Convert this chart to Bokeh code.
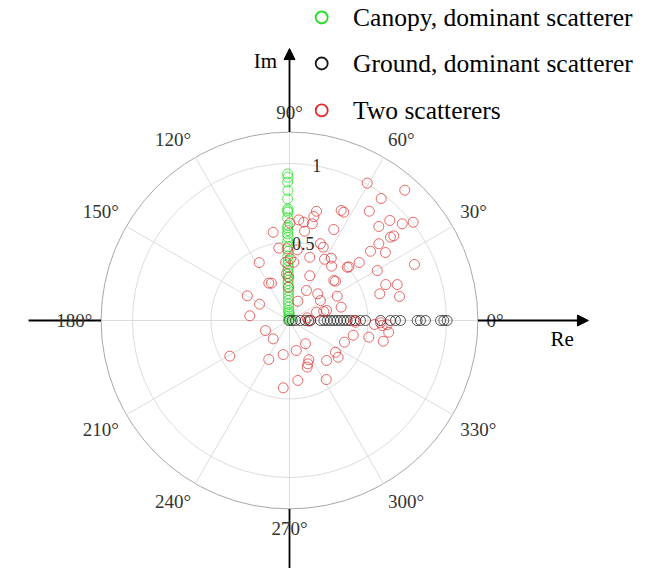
import numpy as np
from bokeh.plotting import figure
from bokeh.models import Arrow, NormalHead
from bokeh.core.properties import value
from bokeh.embed import file_html
from bokeh.resources import INLINE

# ---------------- data (complex coherence values, Re / Im) ----------------
canopy_re = [-0.012, -0.010, -0.012, -0.010, -0.012, -0.010, -0.012, -0.010,
             -0.012, -0.010, -0.012, -0.010, -0.012, -0.010, -0.012, -0.010,
             -0.008, -0.010, -0.008, -0.010, -0.008, -0.010, -0.008, -0.010,
             -0.008, -0.010, -0.008, -0.006, -0.008, -0.006, -0.008, -0.006,
             -0.004, -0.006, -0.004, -0.002, -0.004, -0.002, 0.000]
canopy_im = [0.934, 0.913, 0.881, 0.828, 0.775, 0.711, 0.700, 0.690,
             0.654, 0.605, 0.590, 0.573, 0.552, 0.531, 0.503, 0.470,
             0.440, 0.410, 0.382, 0.360, 0.340, 0.320, 0.300, 0.280,
             0.255, 0.235, 0.212, 0.190, 0.170, 0.150, 0.127, 0.105,
             0.085, 0.065, 0.053, 0.040, 0.028, 0.015, 0.005]

ground_re = [-0.004, 0.017, 0.038, 0.070, 0.100, 0.123, 0.134, 0.197, 0.219,
             0.240, 0.261, 0.282, 0.304, 0.325, 0.346, 0.367, 0.389, 0.420,
             0.452, 0.484, 0.580, 0.643, 0.675, 0.707, 0.813, 0.834, 0.866,
             0.962, 0.983, 1.004]
ground_im = [0.0] * len(ground_re)

two_re = [0.495, 0.734, 0.584, 0.329, 0.346, 0.508, 0.172, 0.155, 0.059, 0.091,
          0.145, 0.002, 0.639, 0.718, 0.788, 0.569, 0.282, 0.096, -0.104, 0.643,
          0.664, -0.068, 0.049, 0.197, 0.215, 0.569, 0.516, 0.611, 0.129, 0.223,
          0.266, 0.268, 0.368, 0.378, 0.444, 0.559, 0.796, -0.193, 0.006, 0.027,
          0.129, 0.282, 0.293, -0.132, -0.115, 0.108, 0.180, 0.304, 0.613, 0.686,
          0.575, 0.701, -0.269, -0.191, 0.053, 0.197, 0.329, 0.172, 0.218, 0.236,
          -0.253, -0.006, -0.006, -0.015, -0.025, -0.019, 0.113, 0.123, 0.420, 0.410,
          0.541, 0.580, 0.590, 0.622, 0.632, 0.597, 0.505, 0.406, 0.350, 0.293,
          0.310, 0.236, 0.102, 0.043, 0.123, 0.117, 0.113, -0.040, -0.132, -0.153,
          -0.104, -0.380, 0.053, -0.040, 0.234]
two_im = [0.875, 0.830, 0.777, 0.701, 0.690, 0.696, 0.696, 0.662, 0.641, 0.626,
          0.616, 0.620, 0.637, 0.616, 0.626, 0.599, 0.580, 0.569, 0.562, 0.531,
          0.539, 0.461, 0.450, 0.489, 0.467, 0.489, 0.441, 0.433, 0.403, 0.390,
          0.397, 0.346, 0.339, 0.342, 0.369, 0.318, 0.357, 0.369, 0.393, 0.371,
          0.285, 0.255, 0.250, 0.238, 0.238, 0.191, 0.170, 0.155, 0.229, 0.229,
          0.170, 0.153, 0.157, 0.104, 0.123, 0.127, 0.085, 0.053, 0.057, 0.064,
          0.030, 0.276, 0.212, 0.457, 0.371, 0.297, 0.017, -0.004, -0.011, 0.000,
          -0.025, -0.015, -0.032, -0.027, -0.075, -0.132, -0.106, -0.094, -0.138, -0.202,
          -0.234, -0.255, -0.148, -0.191, -0.250, -0.276, -0.297, -0.217, -0.248, -0.064,
          -0.117, -0.227, -0.382, -0.429, -0.376]

series_labels = ["Canopy, dominant scatterer", "Ground, dominant scatterer", "Two scatterers"]
angle_ticks = [0, 30, 60, 90, 120, 150, 180, 210, 240, 270, 300, 330]
radial_ticks = [0.5, 1.0]
radial_labels = ["0.5", "1"]
r_max = 1.2

# ---------------- canvas: equal scale, origin placed on the page ----------------
W, H = 646, 568
PX = 157.0          # pixels per unit of |gamma|
CX, CY = 289, 320   # origin in page pixels
p = figure(width=W, height=H,
           x_range=(-CX / PX, (W - CX) / PX), y_range=((CY - H) / PX, CY / PX),
           output_backend="svg", toolbar_location=None, min_border=0,
           x_axis_type=None, y_axis_type=None, outline_line_color=None,
           background_fill_color="white", border_fill_color="white")
p.grid.visible = False

SERIF = value("Liberation Serif")

# polar grid: rings, boundary and spokes
p.circle(x=[0] * len(radial_ticks), y=[0] * len(radial_ticks), radius=radial_ticks,
         fill_color=None, line_color="#dcdcdc", line_width=1)
p.circle(x=[0], y=[0], radius=[r_max], fill_color=None, line_color="#a8a8a8", line_width=1)
th = np.deg2rad(angle_ticks)
p.segment(x0=np.zeros(len(th)), y0=np.zeros(len(th)),
          x1=r_max * np.cos(th), y1=r_max * np.sin(th),
          line_color="#dcdcdc", line_width=1)

# Re / Im axes outside the polar area
AX = dict(line_color="black", line_width=1.8)
p.segment(x0=[-1.662, 0], y0=[0, -r_max], x1=[-r_max, 0], y1=[0, -2.0], **AX)
p.add_layout(Arrow(x_start=r_max, y_start=0, x_end=1.904, y_end=0,
                   end=NormalHead(size=11, fill_color="black", line_color="black"), **AX))
p.add_layout(Arrow(x_start=0, y_start=r_max, x_end=0, y_end=1.732,
                   end=NormalHead(size=11, fill_color="black", line_color="black"), **AX))

# angle labels, anchored on their inner edge
r_lab = 1.255
aligns = {0: ("left", "middle"), 30: ("left", "bottom"), 60: ("left", "bottom"),
          90: ("center", "bottom"), 120: ("right", "bottom"), 150: ("right", "bottom"),
          180: ("right", "middle"), 210: ("right", "top"), 240: ("right", "top"),
          270: ("center", "top"), 300: ("left", "top"), 330: ("left", "top")}
for a in angle_ticks:
    al, bl = aligns[a]
    t = np.deg2rad(a)
    p.text(x=[r_lab * np.cos(t)], y=[r_lab * np.sin(t)], text=[f"{a}°"],
           text_font=SERIF, text_font_size="19px", text_color="#333333",
           text_align=al, text_baseline=bl)

# radial labels along 80 degrees
t80 = np.deg2rad(80)
p.text(x=[r * np.cos(t80) for r in radial_ticks], y=[r * np.sin(t80) for r in radial_ticks],
       text=radial_labels, text_font=SERIF, text_font_size="18px", text_color="#2a2a2a",
       text_align="center", text_baseline="middle")

p.text(x=[-0.153], y=[1.656], text=["Im"], text_font=SERIF, text_font_size="21px",
       text_color="black", text_align="center", text_baseline="middle")
p.text(x=[1.736], y=[-0.115], text=["Re"], text_font=SERIF, text_font_size="21px",
       text_color="black", text_align="center", text_baseline="middle")

# data
GREEN, BLACK, RED = "#22dd22", "#1a1a1a", "#dd2a2a"
p.scatter(canopy_re, canopy_im, marker="circle", size=10, fill_color=None,
          line_color=GREEN, line_alpha=0.75, line_width=1)
p.scatter(ground_re, ground_im, marker="circle", size=10, fill_color=None,
          line_color=BLACK, line_alpha=0.75, line_width=1)
p.scatter(two_re, two_im, marker="circle", size=10, fill_color=None,
          line_color=RED, line_alpha=0.7, line_width=1)

# legend
leg_y = [1.930, 1.637, 1.338]
p.scatter([0.205] * 3, leg_y, marker="circle", size=12, fill_color=None,
          line_color=[GREEN, BLACK, RED], line_width=1.8)
p.text(x=[0.405] * 3, y=leg_y, text=series_labels, text_font=SERIF,
       text_font_size="25.5px", text_color="black", text_align="left",
       text_baseline="middle")

open("out.html", "w").write(file_html(p, INLINE))
